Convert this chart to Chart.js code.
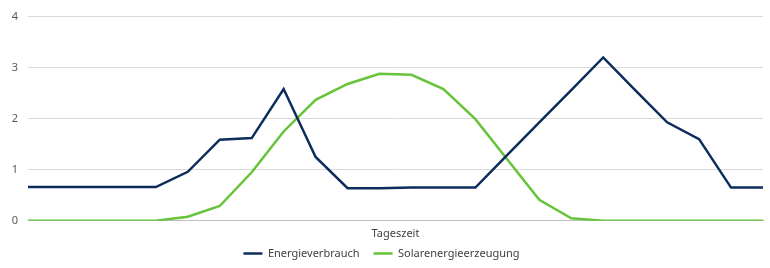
<!DOCTYPE html>
<html>
<head>
<meta charset="utf-8">
<script src="https://cdn.jsdelivr.net/npm/chart.js@4"></script>
<style>
  body { margin: 0; background: #fff; }
  #wrap { width: 770px; height: 268px; }
</style>
</head>
<body>
<div id="wrap"><canvas id="chart"></canvas></div>
<script>
// Stunden des Tages (Beschriftung auf der x-Achse ausgeblendet)
const stunden = [
  "0:00","1:00","2:00","3:00","4:00","5:00","6:00","7:00",
  "8:00","9:00","10:00","11:00","12:00","13:00","14:00","15:00",
  "16:00","17:00","18:00","19:00","20:00","21:00","22:00","23:00"
];

const energieverbrauch = [
  0.66, 0.66, 0.66, 0.66, 0.66, 0.96, 1.59, 1.62,
  2.58, 1.25, 0.64, 0.64, 0.65, 0.65, 0.65, 1.29,
  1.93, 2.56, 3.2, 2.56, 1.93, 1.6, 0.65, 0.65
];

const solarerzeugung = [
  0, 0, 0, 0, 0, 0.08, 0.29, 0.95,
  1.75, 2.37, 2.68, 2.88, 2.86, 2.58, 1.99, 1.2,
  0.41, 0.05, 0, 0, 0, 0, 0, 0
];

const yTicks = [0, 1, 2, 3, 4];

const textFarbe = "#595959";
const schrift = { family: "'Noto Sans', 'Open Sans', sans-serif", size: 11 };

const ctx = document.getElementById("chart");

const grafico = new Chart(ctx, {
  type: "line",
  data: {
    labels: stunden,
    datasets: [
      {
        label: "Energieverbrauch",
        data: energieverbrauch,
        borderColor: "#0c2d5c",
        backgroundColor: "#0c2d5c",
        borderWidth: 2.5,
        pointRadius: 0,
        tension: 0
      },
      {
        label: "Solarenergieerzeugung",
        data: solarerzeugung,
        borderColor: "#66c33a",
        backgroundColor: "#66c33a",
        borderWidth: 2.5,
        pointRadius: 0,
        tension: 0
      }
    ]
  },
  options: {
    responsive: true,
    maintainAspectRatio: false,
    animation: false,
    layout: {
      padding: { top: 10, right: 7, bottom: -1, left: 0 }
    },
    plugins: {
      tooltip: { enabled: false },
      legend: {
        position: "bottom",
        labels: {
          usePointStyle: true,
          pointStyle: "line",
          pointStyleWidth: 19,
          color: "#404040",
          font: schrift,
          padding: 14
        }
      }
    },
    scales: {
      x: {
        offset: false,
        grid: { display: false, drawTicks: false },
        border: { display: true, color: "#bfbfbf", width: 1 },
        ticks: { display: false },
        title: {
          display: true,
          text: "Tageszeit",
          color: "#404040",
          font: schrift,
          padding: { top: 6, bottom: -6 }
        }
      },
      y: {
        min: 0,
        max: 4,
        afterFit: (scale) => { scale.width = 28; },
        afterBuildTicks: (scale) => {
          scale.ticks = yTicks.map(v => ({ value: v }));
        },
        grid: { color: "#d9d9d9", drawTicks: false, lineWidth: 1 },
        border: { display: false },
        ticks: {
          color: textFarbe,
          font: schrift,
          padding: 10
        }
      }
    }
  }
});
</script>
</body>
</html>
